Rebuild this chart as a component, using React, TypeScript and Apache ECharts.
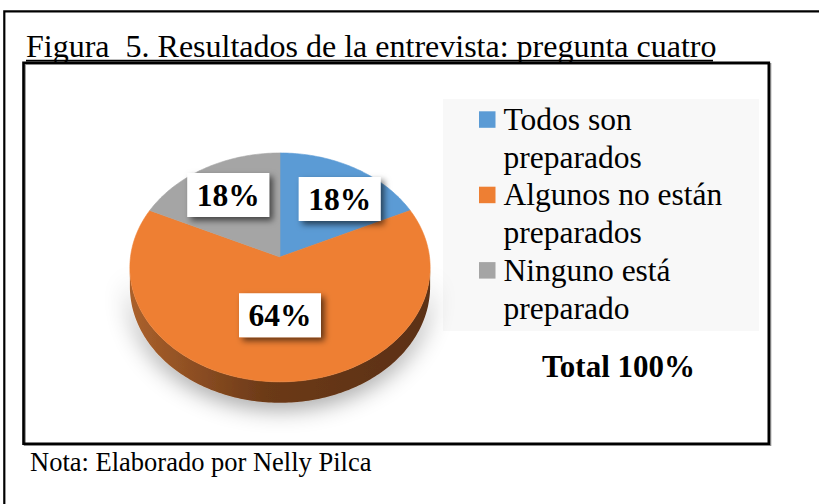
import React, { useEffect, useRef } from 'react';
import * as echarts from 'echarts';

// ---- data ----
const categories = ['Todos son preparados', 'Algunos no están preparados', 'Ninguno está preparado'];
const values = [18, 64, 18];
const colors = ['#5B9BD5', '#EE7F33', '#A5A5A5'];
const titleText = 'Figura  5. Resultados de la entrevista: pregunta cuatro';
const noteText = 'Nota: Elaborado por Nelly Pilca';
const totalText = 'Total 100%';

// ---- geometry of the tilted pie (layout only) ----
const CX = 280;
const CY = 257;
const RA = 149.5;
const RB = 113.5;
const PERSP = 0.091;
const DEPTH = 19;
const LABEL_R = [0.68, 0.49, 0.68];
const LABEL_TURN = [5.6, 0, 0]; // degrees, best-fit nudge of label placement
const FONT = 'Liberation Serif';
const LEG_LH = 37.7;

const total = values.reduce((s, v) => s + v, 0);

function project(theta: number, r = 1): number[] {
  const u = Math.sin(theta) * r;
  const v = Math.cos(theta) * r;
  const w = 1 + PERSP * v;
  return [CX + (RA * u) / w, CY - (RB * v) / w];
}

function sliceAngles(idx: number, v: number) {
  let before = 0;
  for (let j = 0; j < idx; j++) before += values[j];
  const a0 = (before / total) * Math.PI * 2;
  const a1 = ((before + v) / total) * Math.PI * 2;
  return [a0, a1];
}

const wallGradient = new echarts.graphic.LinearGradient(
  130, 0, 430, 0,
  [
    { offset: 0, color: '#ab612c' },
    { offset: 0.45, color: '#6c3a18' },
    { offset: 1, color: '#5b3014' },
  ],
  true
);

function renderSlice(params: any, api: any) {
  const idx = params.seriesIndex;
  const v = api.value(0);
  const [a0, a1] = sliceAngles(idx, v);
  const color = api.visual('color');
  const children: any[] = [];
  const ext = Math.acos(-PERSP);
  const w0 = Math.max(a0, ext);
  const w1 = Math.min(a1, Math.PI * 2 - ext);
  if (w1 > w0) {
    const n = Math.max(2, Math.ceil((w1 - w0) / (Math.PI / 180)));
    const top: number[][] = [];
    const bottom: number[][] = [];
    for (let k = 0; k <= n; k++) {
      const t = w0 + ((w1 - w0) * k) / n;
      const p = project(t);
      const d = DEPTH / (1 + PERSP * Math.cos(t));
      top.push(p);
      bottom.push([p[0], p[1] + d]);
    }
    children.push({
      type: 'polygon',
      shape: { points: top.concat(bottom.reverse()) },
      style: {
        fill: wallGradient,
        shadowBlur: 24,
        shadowColor: 'rgba(0,0,0,0.45)',
        shadowOffsetY: 4,
      },
    });
  }
  const pts: number[][] = [[CX, CY]];
  const n = Math.max(2, Math.ceil((a1 - a0) / (Math.PI / 180)));
  for (let k = 0; k <= n; k++) pts.push(project(a0 + ((a1 - a0) * k) / n));
  children.push({
    type: 'polygon',
    shape: { points: pts },
    style: { fill: color, stroke: color, lineWidth: 0.6 },
  });
  return { type: 'group', children };
}

function renderLabel(params: any, api: any) {
  const idx = params.dataIndex;
  const v = api.value(0);
  const [a0, a1] = sliceAngles(idx, v);
  const p = project((a0 + a1) / 2 + (LABEL_TURN[idx] * Math.PI) / 180, LABEL_R[idx]);
  const w = 82;
  const h = 44;
  return {
    type: 'group',
    children: [
      {
        type: 'rect',
        shape: { x: p[0] - w / 2, y: p[1] - h / 2, width: w, height: h },
        style: {
          fill: '#ffffff',
          shadowBlur: 6,
          shadowColor: 'rgba(0,0,0,0.6)',
          shadowOffsetX: 3.5,
          shadowOffsetY: 3.5,
        },
      },
      {
        type: 'text',
        style: {
          x: p[0],
          y: p[1],
          text: Math.round((v / total) * 100) + '%',
          fill: '#000',
          font: 'bold 31.5px "' + FONT + '"',
          align: 'center',
          verticalAlign: 'middle',
        },
      },
    ],
  };
}

export default function App() {
  const ref = useRef<HTMLDivElement>(null);
  useEffect(() => {
    if (!ref.current) return;
    const chart = echarts.init(ref.current, undefined, { renderer: 'svg' });
    const sliceSeries = categories.map((name, i) => ({
      type: 'custom',
      name,
      coordinateSystem: 'none',
      data: [values[i]],
      itemStyle: { color: colors[i] },
      renderItem: renderSlice,
      silent: true,
      z: 2,
    }));
    chart.setOption({
      animation: false,
      backgroundColor: '#ffffff',
      title: [
        {
          text: titleText,
          left: 26,
          top: 30,
          padding: 0,
          textStyle: { fontFamily: FONT, fontSize: 32, fontWeight: 'normal', color: '#000' },
        },
        {
          text: noteText,
          left: 30,
          top: 448,
          padding: 0,
          textStyle: { fontFamily: FONT, fontSize: 26.5, fontWeight: 'normal', color: '#000' },
        },
        {
          text: totalText,
          left: 542,
          top: 351,
          padding: 0,
          textStyle: { fontFamily: FONT, fontSize: 31, fontWeight: 'bold', color: '#000' },
        },
      ],
      legend: {
        data: categories,
        orient: 'vertical',
        left: 479,
        top: 63,
        padding: 0,
        itemWidth: 16.5,
        itemHeight: 16.5,
        itemGap: -LEG_LH,
        icon: 'rect',
        selectedMode: false,
        formatter: (name: string) => {
          const m = name.match(/^(.*) (\S+)$/);
          const l1 = m ? m[1] : name;
          const l2 = m ? m[2] : '';
          return '{p|\u00a0}\n{t|' + l1 + '}\n{t|' + l2 + '}';
        },
        textStyle: {
          fontFamily: FONT,
          fontSize: 31.5,
          color: '#000',
          lineHeight: LEG_LH,
          rich: {
            p: { fontFamily: FONT, fontSize: 31.5, lineHeight: LEG_LH, padding: [0, 0, 0, 3] },
            t: { fontFamily: FONT, fontSize: 31.5, lineHeight: LEG_LH, color: '#000', padding: [0, 0, 0, 3] },
          },
        },
      },
      graphic: [
        {
          type: 'rect',
          z: 0,
          shape: { x: 443, y: 99, width: 316, height: 232 },
          style: { fill: '#f8f8f8' },
          silent: true,
        },
        {
          type: 'rect',
          z: 0,
          shape: { x: 4.3, y: 11.3, width: 840, height: 520 },
          style: { fill: 'none', stroke: '#000', lineWidth: 2.2 },
          silent: true,
        },
        {
          type: 'rect',
          z: 0,
          shape: { x: 24.8, y: 64, width: 745.5, height: 381 },
          style: { fill: 'none', stroke: '#8a8a8a', lineWidth: 2 },
          silent: true,
        },
        {
          type: 'rect',
          z: 0,
          shape: { x: 23.5, y: 62.8, width: 745.3, height: 381 },
          style: { fill: 'none', stroke: '#000', lineWidth: 2.6 },
          silent: true,
        },
        {
          type: 'line',
          z: 0,
          shape: { x1: 26, y1: 60.6, x2: 713, y2: 60.6 },
          style: { stroke: '#000', lineWidth: 1.6 },
          silent: true,
        },
      ],
      series: [
        ...sliceSeries,
        {
          type: 'custom',
          name: 'etiquetas',
          coordinateSystem: 'none',
          data: values,
          renderItem: renderLabel,
          silent: true,
          z: 6,
        },
      ],
    });
    return () => chart.dispose();
  }, []);
  return (
    <div
      ref={ref}
      style={{ position: 'fixed', left: 0, top: 0, width: 819, height: 504, background: '#fff' }}
    />
  );
}
